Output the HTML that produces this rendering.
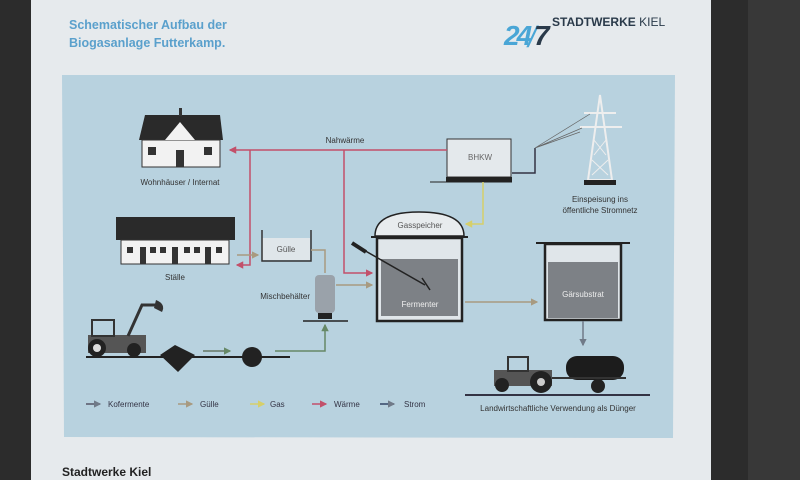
<!DOCTYPE html><html><head><style>body{margin:0;width:800px;height:480px;overflow:hidden;background:#2b2b2b}svg{display:block}text{font-family:"Liberation Sans",sans-serif}</style></head><body>
<svg width="800" height="480" viewBox="0 0 800 480">
<defs>
<marker id="ap" viewBox="0 0 6 6" refX="5" refY="3" markerWidth="5" markerHeight="5" orient="auto"><path d="M0,0L6,3L0,6Z" fill="#c2506a"/></marker>
<marker id="ab" viewBox="0 0 6 6" refX="5" refY="3" markerWidth="5" markerHeight="5" orient="auto"><path d="M0,0L6,3L0,6Z" fill="#a89a80"/></marker>
<marker id="ag" viewBox="0 0 6 6" refX="5" refY="3" markerWidth="5" markerHeight="5" orient="auto"><path d="M0,0L6,3L0,6Z" fill="#668866"/></marker>
<marker id="ay" viewBox="0 0 6 6" refX="5" refY="3" markerWidth="5" markerHeight="5" orient="auto"><path d="M0,0L6,3L0,6Z" fill="#d6cf6a"/></marker>
<marker id="as" viewBox="0 0 6 6" refX="5" refY="3" markerWidth="5" markerHeight="5" orient="auto"><path d="M0,0L6,3L0,6Z" fill="#707a88"/></marker>
</defs>
<rect x="0" y="0" width="800" height="480" fill="#2c2c2c"/>
<rect x="748" y="0" width="52" height="480" fill="#383838"/>
<rect x="31" y="0" width="680" height="480" fill="#e6eaed"/>
<polygon points="62,75 675,75 673,438 64,437" fill="#b8d2df"/>
<text x="69" y="29" font-size="12.5" font-weight="bold" fill="#5aa0cc">Schematischer Aufbau der</text>
<text x="69" y="47" font-size="12.5" font-weight="bold" fill="#5aa0cc">Biogasanlage Futterkamp.</text>
<text x="504" y="45" font-size="28" font-style="italic" font-weight="bold" fill="#4aa6d6" letter-spacing="-3">24</text>
<text x="528" y="47" font-size="30" font-style="italic" fill="#4aa6d6">/</text>
<text x="534" y="45" font-size="28" font-style="italic" font-weight="bold" fill="#2a3a4a">7</text>
<text x="552" y="26" font-size="12" font-weight="bold" fill="#2a3a4a">STADTWERKE <tspan font-weight="normal">KIEL</tspan></text>
<text x="62" y="476" font-size="12" font-weight="bold" fill="#222">Stadtwerke Kiel</text>
<polygon points="139,140 145,115 220,115 223,140" fill="#2a2a2a"/>
<rect x="142" y="140" width="78" height="27" fill="#f2f2f2" stroke="#333"/>
<polygon points="165,140 180,122 195,140" fill="#f2f2f2"/>
<rect x="176" y="150" width="8" height="17" fill="#333"/><rect x="148" y="147" width="8" height="8" fill="#333"/><rect x="204" y="147" width="8" height="8" fill="#333"/>
<rect x="179" y="108" width="3" height="8" fill="#333"/>
<text x="180" y="185" font-size="8" text-anchor="middle" fill="#333">Wohnhäuser / Internat</text>
<rect x="116" y="217" width="119" height="23" fill="#2a2a2a"/>
<rect x="121" y="240" width="108" height="24" fill="#f2f2f2" stroke="#333"/>
<g fill="#333"><rect x="127" y="247" width="6" height="6"/><rect x="140" y="247" width="6" height="17"/><rect x="150" y="247" width="6" height="6"/><rect x="160" y="247" width="6" height="6"/><rect x="172" y="247" width="6" height="17"/><rect x="184" y="247" width="6" height="6"/><rect x="194" y="247" width="6" height="6"/><rect x="205" y="247" width="6" height="17"/><rect x="216" y="247" width="6" height="6"/></g>
<text x="175" y="280" font-size="8" text-anchor="middle" fill="#333">Ställe</text>
<rect x="262" y="238" width="48" height="22" fill="#dfe6ea"/>
<path d="M262,230V261H311V230" fill="none" stroke="#333" stroke-width="1.5"/>
<text x="286" y="252" font-size="8" text-anchor="middle" fill="#555">Gülle</text>
<rect x="315" y="275" width="20" height="38" rx="4" fill="#9aa2aa"/>
<rect x="318" y="313" width="14" height="6" fill="#222"/>
<line x1="303" y1="321" x2="348" y2="321" stroke="#222" stroke-width="1.5"/>
<text x="310" y="299" font-size="8" text-anchor="end" fill="#333">Mischbehälter</text>
<path d="M375,236 Q375,212 419,212 Q464,212 464,236Z" fill="#e8ecee" stroke="#222" stroke-width="1.5"/>
<text x="420" y="228" font-size="8" text-anchor="middle" fill="#555">Gasspeicher</text>
<line x1="371" y1="237" x2="468" y2="237" stroke="#222" stroke-width="2"/>
<rect x="377" y="238" width="85" height="83" fill="#e0e6ea" stroke="#222" stroke-width="2.5"/>
<rect x="381" y="259" width="77" height="57" fill="#7d8186"/>
<line x1="355" y1="245" x2="425" y2="285" stroke="#222" stroke-width="1.5"/>
<line x1="352" y1="243" x2="366" y2="252" stroke="#222" stroke-width="4"/>
<line x1="422" y1="278" x2="430" y2="290" stroke="#222" stroke-width="1.5"/>
<text x="420" y="307" font-size="8" text-anchor="middle" fill="#eee">Fermenter</text>
<line x1="536" y1="243" x2="630" y2="243" stroke="#222" stroke-width="2"/>
<rect x="545" y="244" width="76" height="76" fill="#e0e6ea" stroke="#222" stroke-width="2.5"/>
<rect x="548" y="262" width="70" height="56" fill="#7d8186"/>
<text x="583" y="297" font-size="8" text-anchor="middle" fill="#eee">Gärsubstrat</text>
<rect x="447" y="139" width="64" height="38" fill="#e4e9ec" stroke="#333"/>
<rect x="446" y="177" width="66" height="5" fill="#222"/>
<line x1="430" y1="182" x2="512" y2="182" stroke="#222"/>
<text x="480" y="160" font-size="8" text-anchor="middle" fill="#666">BHKW</text>
<path d="M512,173H535V148" fill="none" stroke="#334" stroke-width="1.5"/>
<path d="M600,95 L588,180 H612 Z" fill="none" stroke="#eee" stroke-width="2"/>
<path d="M594,140 L606,155 M606,140 L594,155 M592,160 L608,175 M608,160 L592,175" stroke="#eee" stroke-width="1"/>
<line x1="580" y1="127" x2="622" y2="127" stroke="#eee" stroke-width="2"/><line x1="584" y1="113" x2="616" y2="113" stroke="#eee" stroke-width="2"/>
<rect x="584" y="180" width="32" height="5" fill="#222"/>
<path d="M535,148 L582,128 M535,148 L590,114 M535,148 L580,132" stroke="#666" stroke-width="0.7"/>
<text x="600" y="202" font-size="8" text-anchor="middle" fill="#333">Einspeisung ins</text>
<text x="600" y="213" font-size="8" text-anchor="middle" fill="#333">öffentliche Stromnetz</text>
<path d="M447,150H230" fill="none" stroke="#c2506a" stroke-width="1.5" marker-end="url(#ap)"/>
<path d="M250,150V265H237" fill="none" stroke="#c2506a" stroke-width="1.5" marker-end="url(#ap)"/>
<path d="M344,150V273H372" fill="none" stroke="#c2506a" stroke-width="1.5" marker-end="url(#ap)"/>
<path d="M483,182V224H466" fill="none" stroke="#d6cf6a" stroke-width="1.5" marker-end="url(#ay)"/>
<path d="M237,255H258" fill="none" stroke="#a89a80" stroke-width="1.5" marker-end="url(#ab)"/>
<path d="M311,250H325V273" fill="none" stroke="#a89a80" stroke-width="1.5"/>
<path d="M336,285H372" fill="none" stroke="#a89a80" stroke-width="1.5" marker-end="url(#ab)"/>
<path d="M465,302H537" fill="none" stroke="#a89a80" stroke-width="1.5" marker-end="url(#ab)"/>
<path d="M583,321V345" stroke="#707a88" stroke-width="1.5" marker-end="url(#as)"/>
<rect x="88" y="335" width="58" height="18" fill="#555"/>
<rect x="92" y="320" width="22" height="16" fill="none" stroke="#333" stroke-width="2"/>
<circle cx="97" cy="348" r="9" fill="#222"/><circle cx="97" cy="348" r="4" fill="#ddd"/>
<circle cx="134" cy="350" r="7" fill="#222"/>
<path d="M128,336 L142,305 H160" stroke="#333" stroke-width="3" fill="none"/>
<path d="M156,300 Q166,304 162,312 L154,308Z" fill="#333"/>
<line x1="86" y1="357" x2="290" y2="357" stroke="#222" stroke-width="2"/>
<polygon points="160,355 175,345 195,355 178,372" fill="#222"/>
<path d="M203,351H230" stroke="#667766" stroke-width="1.5" marker-end="url(#ag)"/>
<circle cx="252" cy="357" r="10" fill="#222"/>
<path d="M275,351H325V325" fill="none" stroke="#668866" stroke-width="1.5" marker-end="url(#ag)"/>
<rect x="494" y="370" width="58" height="16" fill="#555"/>
<rect x="508" y="357" width="20" height="14" fill="none" stroke="#333" stroke-width="2"/>
<circle cx="502" cy="385" r="7" fill="#222"/><circle cx="541" cy="382" r="11" fill="#222"/><circle cx="541" cy="382" r="4" fill="#ccc"/>
<rect x="566" y="356" width="58" height="24" rx="11" fill="#1c1c1c"/>
<line x1="552" y1="378" x2="626" y2="378" stroke="#333" stroke-width="2"/>
<circle cx="598" cy="386" r="7" fill="#222"/>
<line x1="465" y1="395" x2="650" y2="395" stroke="#334" stroke-width="2"/>
<text x="558" y="411" font-size="8" text-anchor="middle" fill="#333">Landwirtschaftliche Verwendung als Dünger</text>
<g font-size="8" fill="#334">
<path d="M86,404H100" stroke="#556" stroke-width="1.5" marker-end="url(#as)"/><text x="108" y="407">Kofermente</text>
<path d="M178,404H192" stroke="#a89a80" stroke-width="1.5" marker-end="url(#ab)"/><text x="200" y="407">Gülle</text>
<path d="M250,404H264" stroke="#d6cf6a" stroke-width="1.5" marker-end="url(#ay)"/><text x="270" y="407">Gas</text>
<path d="M312,404H326" stroke="#c2506a" stroke-width="1.5" marker-end="url(#ap)"/><text x="334" y="407">Wärme</text>
<path d="M380,404H394" stroke="#334466" stroke-width="1.5" marker-end="url(#as)"/><text x="404" y="407">Strom</text>
</g>
<text x="345" y="143" font-size="8" text-anchor="middle" fill="#333">Nahwärme</text>
</svg></body></html>
